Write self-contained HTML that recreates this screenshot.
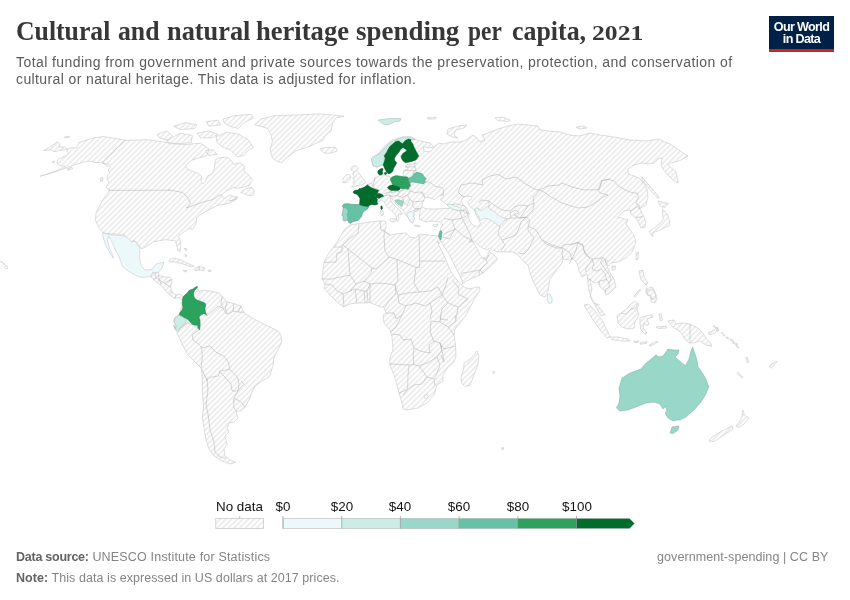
<!DOCTYPE html>
<html><head><meta charset="utf-8">
<style>
html,body{margin:0;padding:0;background:#fff;}
body{width:850px;height:600px;position:relative;overflow:hidden;font-family:"Liberation Sans",sans-serif;}
.abs{position:absolute;white-space:nowrap;}
div.abs{will-change:transform;}
#title{left:16px;top:15.4px;width:640px;height:32px;font-family:"Liberation Serif",serif;font-weight:bold;font-size:28px;line-height:32px;color:#373737;}
#title .tw{position:absolute;top:0;white-space:nowrap;transform-origin:0 50%;line-height:32px;}
.sub{left:16px;font-size:14px;line-height:17px;color:#5b5b5b;}
#logo{left:769px;top:16px;width:65px;height:33px;background:#002147;border-bottom:3px solid #ce261e;color:#fff;font-weight:bold;font-size:12.6px;line-height:11.7px;text-align:center;letter-spacing:-0.66px;}
.foot{font-size:12.5px;color:#858585;}
.foot b{color:#636363;}
.lg{font-size:13.4px;color:#111;}
</style></head><body>
<div id="title" class="abs"><span class="tw" style="left:0.08px;transform:scaleX(0.9188)">Cultural</span><span class="tw" style="left:101.58px;transform:scaleX(0.9182)">and</span><span class="tw" style="left:150.66px;transform:scaleX(0.9402)">natural</span><span class="tw" style="left:239.95px;transform:scaleX(0.949)">heritage</span><span class="tw" style="left:340.44px;transform:scaleX(0.9623)">spending</span><span class="tw" style="left:452.4px;transform:scaleX(0.835)">per</span><span class="tw" style="left:496.38px;transform:scaleX(0.9244)">capita,</span><span class="tw" style="left:576.32px;font-size:20px;top:2.4px;transform:scaleX(1.2816)">2021</span></div>
<div class="abs sub" style="top:53.5px;letter-spacing:0.42px">Total funding from government and private sources towards the preservation, protection, and conservation of</div>
<div class="abs sub" style="top:70.7px;letter-spacing:0.385px">cultural or natural heritage. This data is adjusted for inflation.</div>
<div id="logo" class="abs"><div style="margin-top:5.6px">Our World</div><div style="margin-top:0.9px">in Data</div></div>

<svg class="abs" style="left:0;top:0" width="850" height="600" viewBox="0 0 850 600">
<defs>
<pattern id="hatchL" patternUnits="userSpaceOnUse" width="4" height="4" patternTransform="rotate(-45 2 2)"><path d="M -1,2 l 6,0" stroke="#ccc" stroke-width="0.7"/></pattern>
<pattern id="hatch" patternUnits="userSpaceOnUse" width="3.85" height="3.85" patternTransform="rotate(-45 1.9 1.9)"><path d="M -1,1.925 l 6,0" stroke="#ccc" stroke-width="0.68"/></pattern>
</defs>
<g id="map"><path d="M40 176.2 L50 173.5 L57.5 171 L64.4 168.5 L68.1 167.2 L72.5 165.6 L77.5 163.8 L82.5 162.5 L87.5 161.2 L91.2 161.2 L95 162.5 L101.2 162.5 L105 163.8 L108.8 164.4 L110 167.5 L108.1 170 L110 173.1 L107.5 175 L106.9 178.8 L108.8 182.5 L106.2 187.5 L110 190 L102.1 200.6 L96.2 212.4 L95.3 219.7 L99.1 228.5 L103.5 232.9 L109.4 233.8 L123.5 234.4 L130 241.8 L134.4 240.3 L141.8 249.1 L153.5 241.8 L165.3 239.7 L175.6 240.9 L177.9 250.6 L180.6 251.5 L180.6 241.8 L178.5 235.9 L188.8 228.5 L192.5 229.3 L196 223.7 L196.7 218 L201 214.4 L206.7 210.9 L212.3 208.1 L218 205.2 L223.7 204.5 L229.3 203.1 L237.1 198.9 L237.8 196.7 L231.4 200.3 L229.3 201 L235 199.6 L236.4 196.7 L229.3 195.3 L223.7 198.9 L221.5 194.6 L226.5 191.1 L232.9 187.5 L236.4 188.2 L242.1 187.5 L249.2 185.4 L252.3 179.7 L249.2 175.5 L244.2 171.2 L244.2 166.3 L240.7 162.7 L233.6 164.2 L230.7 159.9 L226.5 157.1 L219.4 157.8 L215.2 159.9 L214.4 168.4 L212.3 173.4 L207.4 176.2 L205.9 180.5 L203.1 184 L201 181.9 L201.7 176.2 L198.2 173.4 L192.5 171.2 L187.5 169.1 L185.4 166.3 L186.8 164.2 L192.5 159.9 L199.6 157.8 L206.7 155.7 L209.3 149 L200.6 143.2 L182.9 144.7 L162.4 141.8 L147.6 139.7 L127.1 140.3 L122.5 139.8 L110 137.5 L103.8 136.5 L92.5 138.1 L85 140.6 L78.8 142.5 L78.1 145 L76.2 148.1 L72.5 147.5 L68.1 148.8 L66.9 151.2 L68.8 153.1 L66.2 155.6 L61.2 157.5 L57.5 160 L56.9 163.1 L60 165.6 L65 166.2 L61.9 168.1 L55 171.2 L47.5 173.8Z M43.8 150.6 L48.8 147.5 L57.5 141.9 L60 143.8 L59.4 146.9 L64.4 146.9 L67.8 149.4 L63.1 150 L58.8 150.6 L53.8 151.9 L51.2 149.8Z M64.4 136.9 L69.4 136.2 L68.8 137.5 L65 137.8Z M51.9 161.9 L54.4 161.5 L53.8 163.1Z M67.2 168.8 L71.9 167.2 L72.5 168.8 L68.1 170.2Z M100 178.1 L102.5 177.2 L103.1 180.6 L100.6 181.5Z M240.7 192.5 L246.3 188.2 L252 187.5 L254.5 191.1 L252.7 196 L247.7 195.3 L243.5 193.2Z M150.6 276.6 L153 272 L155 273 L158.6 272 L158.6 275 L162 276.6 L170 277.4 L172 279.4 L170.6 287 L172 292 L176 295 L180 294 L183.4 296.4 L182 300 L179 297.4 L175 298.6 L171 296 L166 291.4 L161 285.4 L155 281Z M169 260 L174 258 L181 260 L189 264 L194 266 L191 267 L183 264 L175 262 L170 262Z M195 268 L199 266.6 L205 268 L204 270.6 L199 270 L195 270.6Z M183 270.6 L187 270.6 L186 272.2Z M208 270 L211 270 L211 271.4 L208 271.4Z M184 248 L187 249 L186 251Z M185 254 L187 256 L185.4 256.6Z M197 286.4 L199 292 L202 290 L210 291 L219 293 L222 296 L227 302 L234 303.6 L241 306 L244 313 L254 319 L262 323 L270 327 L278 331 L281 335 L281.6 342 L278 350 L274 357 L273 366 L270 375 L269 377 L262 381 L255 386 L252 392 L250 398 L245 407 L241 411 L236 411 L238 418 L234 422 L229 423 L227 428 L229 432 L225 436 L227 444 L224 449 L225 456 L230 460 L235.6 462.4 L230 464 L222 461 L214 456 L209 449 L206 440 L204.4 430 L202.4 418 L203.6 406 L202.4 394 L202.4 382 L201.6 370 L201 368 L195 362 L188 355 L183 346 L179 337 L176 331 L173.6 325 L175 329 L176 325 L173.6 321 L175 317 L179 315 L181 309 L183 303 L182 299.4 L183.4 296.4 L185 295 L189 292 L193 289Z M254.7 125 L260.6 119.1 L274.7 115.6 L298.2 114.9 L319.4 113.9 L332.4 114.9 L344.1 116.3 L335.9 117.9 L332.4 123.8 L331.2 130.9 L325.3 135.6 L322.9 140.3 L310 146.2 L295.9 150.9 L286.5 157.9 L281.8 162.6 L277.1 161.5 L272.4 157.9 L270 149.7 L272.4 141.5 L271.2 135.6 L267.6 128.5 L260.6 126.2Z M319.9 148.5 L326.5 147.4 L335.9 147.4 L337.1 150.9 L331.2 153.2 L324.1 153.2Z M157.1 134.4 L166.5 130.9 L172.4 135.6 L167.6 140.3 L159.4 137.9Z M166.5 140.3 L180.6 133.2 L192.4 135.6 L191.2 142.6 L178.2 143.8 L168.8 143.8Z M173.5 126.2 L185.3 122.6 L197.1 125 L194.7 128.5 L180.6 129.7Z M206.5 121.5 L218.2 120.3 L220.6 125 L208.8 126.2Z M222.9 119.1 L234.7 115.6 L251.2 114.4 L253.5 117.9 L244.1 122.6 L238.2 128.5 L230 126.2 L224.1 122.6Z M197.1 133.2 L208.8 130.9 L218.2 134.4 L211.2 137.9 L200.6 137.9Z M215.9 136.8 L227.6 132.1 L239.4 134.4 L248.8 140.3 L253.5 147.4 L247.6 150.9 L244.1 155.6 L237.1 156.8 L230 149.7 L222.9 147.4 L217.1 142.6Z M205.3 150.9 L213.5 149.7 L217.1 154.4 L208.8 155.6Z M415 139.4 L420 141 L430 143 L434 147 L428 148 L423 146 L424 151 L430 152 L436 145 L439 143 L444 144 L450 142 L460 142 L466 140 L473 135 L477 138 L480 142 L485 140 L482 135 L488 133 L498 129 L508 126 L518 124 L528 125 L538 126 L540 130 L560 132 L570 135 L579 136 L590 133 L600 135 L614 137 L630 140 L648 141 L658 139 L670 144 L680 151 L688 156 L679 161 L670 163 L668 165 L676 172 L678.4 183 L674 181 L668 175 L663 169 L661 165 L662 158 L658 159 L654 163 L648 164 L642 163 L634 165 L628 169 L628 174 L634 176 L639 178 L643 182 L647 189 L648 197 L646 205 L639 209 L639 207 L642 213 L646 222 L645 227 L641 228 L638 221 L634 216 L631 214 L630 210 L624 211 L618 217 L628 220 L626 224 L634 235 L636 242 L632 252 L626 258 L618 262 L611 263 L608 266 L605 260 L609 271 L614 279 L616 287 L610 293 L606 295 L604.4 290 L600 287 L599 282 L594 283 L590 279 L592 289 L590 297 L594 303 L599 307 L605 315 L605 315 L602 315 L601 316 L596 307 L592 299 L589 291 L588 283 L587 274 L582 277 L579 271 L577 263 L573 259 L570 260 L563 259 L562 263 L556 271 L550 279 L548 291 L545 297 L540 295 L534 283 L530 273 L528 265 L525 263 L523.8 261.2 L520 257.5 L517.5 254.4 L512.5 251.9 L505 251.9 L497.5 251.9 L492.5 250 L489.4 248.1 L487.5 249.4 L483.8 248.8 L478.8 245.6 L474.4 241.2 L470.6 240 L473.1 241.9 L475.6 246.2 L478.8 251.9 L480 255 L482.5 258.1 L486.2 257.5 L488.1 254.4 L489.4 250 L490.6 253.1 L495 255.6 L497.5 259.4 L493.1 263.8 L488.8 268.1 L483.8 272.5 L478.8 275.6 L472.5 278.1 L466.2 281.2 L462.5 283.8 L461.8 280 L458.8 273.8 L455.6 267.5 L452.5 261.2 L448.8 253.8 L444.2 246.9 L440.9 241.2 L438.8 238.1 L439 233.8 L440 230.6 L441 227 L443 225 L440 222 L432 221 L426 222 L419 219 L420 212 L420 208.5 L418 209 L417 211 L414.5 211.5 L413.5 213 L414.5 215 L413 216 L414.5 218.5 L413.5 221 L412.5 223 L410.5 221.5 L409 219 L407.5 216.5 L406.5 216 L405 214.5 L404 212 L402.5 210 L400 207.5 L397 205 L394.5 202 L392.5 200 L391 197.5 L390 198 L391 201 L394 205 L398 209 L401 212 L402.5 214 L400 214.5 L399 213.5 L398.5 216 L399 219 L397.5 221.5 L396.8 220 L396.5 217 L395 214 L392 211.2 L388.5 208 L385.5 204.5 L383.5 201 L381 200 L378 201.5 L378 204 L375 205 L372 204.5 L369.5 205.2 L368.5 206.5 L368 208.5 L365 210.5 L362.5 213 L361.5 216.5 L359.5 219 L357.5 220.5 L353 221.5 L350 223.5 L348.5 222 L347.5 220 L344 221.2 L343 219.5 L343.5 216.5 L341.8 215.5 L342.8 212 L343.2 209.5 L343 207.5 L342.5 205.5 L344 204 L348 203.8 L353 204.5 L359.5 204.5 L359.8 201.5 L360 198.5 L358.5 196 L356.5 194 L354 193.5 L353 192 L354.5 190.5 L358 190 L359 188.8 L360.5 188.5 L362.5 188 L365.5 186.5 L367 184.8 L371.2 183.1 L373.8 180.6 L375 177.5 L378.1 176.9 L379.4 175 L378.5 174 L378 171 L381.5 168.5 L382.5 171 L381.5 174 L385 175.5 L389 176 L390.5 178 L396 176 L404 176.5 L403 174 L403.5 171 L405.5 169.5 L408 170 L407.5 167.5 L405.5 166.5 L407 164.5 L412 164 L416 163.5 L415.5 160 L405 162.5 L401.5 159 L401 155.5 L405 151.5 L406.5 149.5 L404 148.5 L400 151 L395 157 L394 160 L396.5 163 L393 167 L392.5 172 L389 173.5 L386.5 172 L384 166 L382 164 L379 165.2 L373 166 L371.5 159 L378 154 L384 147 L392 140 L403 137 L411 137 L415 139.5Z M350 225 L360 223.4 L370 222 L379 221 L385.6 221 L386.4 226 L384.4 231 L390 235 L396 234 L406 233 L410 237 L416 238 L419 234 L428 235 L438 236 L439.6 237.4 L438.8 238.1 L440.6 241.2 L439 243.8 L437.4 241.2 L439.6 246.9 L443.2 253.8 L446.4 261.2 L448.9 267.5 L452.6 274.4 L457 280 L461 284.4 L465 287.5 L470 288.8 L477.5 286.9 L480 287.5 L479.4 291.2 L476.2 296.2 L473.8 300 L466 315 L460 323 L455 329 L454 335 L455.6 345 L456 356 L454 362 L448 367 L443 375 L443 381 L437 385 L434 395 L427 403 L418 408 L407 410 L403 409 L402 403 L399 393 L397 385 L394 375 L389.6 364 L390 358 L393 349 L392 337 L390 330 L384 323 L383 315 L386 313 L384 307 L380 307 L376 305 L370 302.6 L364 303 L357 303 L350 304 L343 307 L336 301 L330 295 L324 288 L325 284 L322 279 L323 271 L324 262 L329 253 L335 245 L340 237 L345 229Z M476.6 351 L479 355 L478 364 L474 375 L470 385 L465 386.6 L461.6 383 L461 377 L463.6 369 L464 363 L469 360 L474 355Z M743 410 L744.4 415 L749 418 L744 424 L738 428 L736 426 L740 421 L742 416Z M732 426 L733 429 L724 435 L714 441.6 L709 441 L712 437 L722 431Z M737.6 372 L743 377 L742 378 L737 373.6Z M584 305 L589 304 L596 312 L603 322 L607 330 L610 337 L607 338 L600 330 L593 320 L587 310Z M610 337 L618 337 L628 339 L630 341 L622 341 L612 339.6Z M634 341 L639 341 L638 342.4 L634.4 342.4Z M640 343 L647 341.6 L646.6 343.2 L640.4 344.4Z M649 345 L657 341 L658 342 L650 346.4Z M617 316 L625 310 L631 304 L635 301 L639 304 L637 309 L639 315 L635 322 L634 328 L628 329 L622 327 L618 323Z M640 318 L645 316 L652 315 L653 317 L647 319 L649 324 L647 326 L644 323 L643 328 L647 333 L645 334 L641 330 L640 324Z M659 314 L661 313.6 L662.4 320 L660.4 321Z M656 327 L661 326.6 L666 326 L667 328 L658 328.4Z M668 321 L674 320 L676 324 L682 323 L690 324 L698 328 L703 333 L706 338 L711 344 L712 346.4 L706 345 L700 341 L694 343 L689 343 L685 339 L682 334 L678 330 L674 328 L671 325Z M708 333 L714 330 L717 327 L718 329 L715 333 L710 335Z M647 290 L654 290 L657 298 L655 303 L651 302 L652 297 L647 295Z M639 271 L643 270 L644 277 L648 283 L646 285 L641 280Z M646 289 L652 287 L656 295 L655 299 L650 299 L651 296 L646 293Z M634 296 L640 289 L640.4 290.6 L635 297.4Z M636 253 L638.4 252 L638 259 L636 260Z M612 266 L615.6 266 L615 270 L612 270Z M576 127 L584 126 L587 128 L579 129Z M427 117.8 L436 117.4 L435.6 119 L428 119Z M448 129 L458 126 L467 125 L464 128 L456 130 L454 135 L458 138 L452 137 L447 134Z M495 118 L502 117 L510 120 L508 121.4 L498 120.6Z M433 225 L438 224 L437 226.6 L433.6 226.6Z M423.6 396 L426.4 394 L428.4 396.6 L425.6 399Z M658.3 200.8 L663.3 202.5 L668.3 203.3 L665 207.5 L660.8 206.7 L659.2 204.2Z M662.5 209.2 L666.7 213.3 L670 221.7 L669.2 225.8 L663.3 228.3 L658.3 230.8 L653.3 232.5 L652.5 236.7 L649.2 231.7 L655 227.5 L660 223.3 L663.3 219.2 L662.5 214.2Z M641.7 176.7 L646.7 182.5 L651.7 188.3 L656.7 194.2 L659.2 197.5 L657.5 198.3 L652.5 192.5 L646.7 185.8 L642.5 180Z M380 211 L383 210.5 L383.5 215 L381.5 216 L380 214.5Z M390 219 L393.5 218.5 L396.5 219 L395.5 221.5 L392.5 222 L390 220.5Z M721.9 332.2 L724.8 335.2 L724 336 L721.2 333Z M726.2 336.6 L729 338.5 L728.5 339.2 L725.8 337.4Z M730.6 339.1 L734 341 L733.5 341.9 L730.1 340Z M733.1 342.2 L737.8 344.1 L737.2 345 L732.8 343.2Z M736.2 345.4 L739 347.2 L738.5 348 L735.8 346.1Z M746 357.5 L747.2 357.2 L748.8 362.2 L747.5 362.8Z M769.4 366.2 L771.9 363.8 L776.9 361.2 L777.2 362 L775 363.4 L772.2 367.8 L770 367.8Z M713.5 325.5 L718.8 329 L719 330.2 L716.9 331.5 L716.2 330.2 L717.2 329.5 L713 326.2Z M5 265.8 L7.5 266.2 L7.8 268.5 L5.8 269 L4.8 267.5Z M3.3 263 L5 263.8 L4.6 264.6 L3 263.8Z M0.8 261.2 L2.4 262 L2 262.8 L0.6 262Z M493 371.6 L494.6 371.6 L494.6 373.2 L493 373.2Z M501.5 447.5 L503.8 447.8 L503.5 449.5 L501.5 449.2Z M352.7 166 L356.2 166 L358.4 168.6 L356.6 170.8 L359.2 173.4 L361.4 176.4 L363.1 179 L365.3 181.2 L364.9 183.3 L362.3 184.6 L357.9 185.5 L353.6 186.8 L351.4 186.8 L354.5 184.2 L352.7 182.4 L354.9 180.7 L352.7 179 L354.5 176.4 L352.7 174.7 L353.6 171.6 L351 169.9 L351 167.7Z M343.6 177.7 L346.7 174.7 L349.7 174.7 L351 176.8 L349.7 179.9 L346.7 182.4 L343.2 182.9 L342.8 180.7Z" fill="url(#hatch)" stroke="#c2c2c2" stroke-width="0.55" stroke-linejoin="round"/>
<path d="M424.8 198.1 L428.1 197.2 L431.2 198.5 L435 199.4 L437.5 196.9 L441.2 195.2 L443.8 193.8 L442.8 197.5 L440 199.4 L443.8 202.5 L447.5 205 L450 208.5 L443.8 208.5 L435 209 L426.2 208.8 L421.9 206.9 L422.5 202.5Z M461.6 200.3 L462.9 197.5 L466.6 196.1 L471.2 196.6 L472.1 198.4 L469.4 200.3 L467.5 202.1 L469.4 205.8 L472.1 208.5 L474.4 210.4 L475.8 214 L478.5 219.5 L480.4 223.2 L479.4 226 L476.2 226.4 L473 225 L470.3 222.3 L468.4 217.7 L469.4 214 L467.5 210.4 L464.8 206.7 L462 203Z" fill="#fff" stroke="#c2c2c2" stroke-width="0.55" stroke-linejoin="round"/>
<path d="M107.9 190.3 L169.7 190.3 L168.4 189.7 L182.6 192.5 L188.2 198.2 L190.4 203.1 L186.1 208.1 L192.5 205.9 L199.6 203.1 L206.7 201 L213 199.6 L218 196 L221.5 194.6 M125.6 139.7 L102.1 162.4 L107.9 166.8 M222 296 L221 303 L223 308 L226 314 L230 313 L233 311 L238 312 L243.6 312.4 M207 315.6 L214 310 L218 306 L222.4 308 M227 302 L225 308 L227 313 M234 303.6 L233 311 M241 306 L238 312 M199.6 329.6 L192 334.4 L193 340 L199 344.4 L201.6 348 L202.4 356 L201 368 M173.6 325 L177 330 L182 327 L187 323 L193 325 L199.6 329.6 M201.6 348 L210 346 L216 352.4 L224.4 356.4 L228.4 362.4 L230 369.4 L220 371 L218.4 376 L210 377.4 L207 380.4 L204 374 L201.6 369 M230 369.4 L238 378 L239 384 L238 391 L232 391 L231 384 L220 371.6 M207 378 L208 390 L206 404 L208.4 416 L210 430 L214 442 L215 452 L220 457 L225.6 458 M239 389 L234 398 L241 402 L245 407 M234 398 L233.6 407 L236 411 M239 389 L244 384 L241 381 M690 324 L690 343 M359 224 L358 233 L349 239 L343 245 L372 268 L376 269 L389 257 L385 251 L384 237 L384.4 231 L381 230 L380 221.4 M343 245 L342 247 L334 247 M342 247 L342 252 L337 253 L336 262 L324 262.4 M348 248.6 L350 275 L336 278 L332 279 L322 279 M384.4 231 L389 235 M389 257 L397 259.4 L416 267.4 L419.6 267.4 L419.6 261 L419 235 M419.6 261 L445 261 M397 259.4 L398 281 L395 285 L390 284 L378 283 L370 284 L364 281 L371 273 L372 268 M416 267.4 L414 283 L419 292 L430 291 L438 287 L442 295 L446 285 L448 277 M364 281 L356 284 L350 291 L343 294 L336 290 L332 285 L325 284 M350 275 L356 284 M343 294 L344 307 M350 291 L355 289 L357 303 M355 289 L364 291 L365 303 M364 291 L367 291 L370 284 M367 291 L368 302.6 M370 284 L370 302.6 M395 285 L396 293 L389 301 L385 307 M395 285 L398 295 L408 293 L419 292 M398 295 L399 303 L406 306 L416 303 L425 306 L430 303 L442 295 M442 295 L448 303 L458 307 L468 299 L458 294 L459 288 L453 281 M448 303 L442 309 L440 319 L448 320 M458 307 L456 319 M386 313 L394 313 L396 319 L402 315 L406 306 M390 333 L396 327 L402 315 M430 303 L432 311 L430 319 M392 334 L400 335 L403 340 L411 339 L414 348 L413 355 L414 364.6 L409 365 L389.6 364 M409 365 L408 375 L407.6 389 L403 395 M399 393 L407.6 389.4 L414 385 L422 384 L427 377 L419 366 L414 364.6 M414 348 L420 351 L430 353 L429 345 L434 341 L440 343 L442 350 L437 357 L429 362 L419 366 M437 357 L440 365 L437 373 L434 379 L435 386 M427 377 L434 379 M431 321 L440 322 L448 327 L454 335 M440 343 L444 349 L455.6 346 M440 343 L443 355 L444 362 L441 355 M431 321 L430 331 L433 340 L434 341 M440 322 L441 315 M448 327 L456 321 L455 315 M458 192 L461 185 L472 183 L483 185 L482 180 L490 176 L498 174.4 L506 179 L516 177 L526 184 L534 189 L539 190 L536 195 L533 197 L534 203 L528 206 L520 205 L514 207 L510 211 L502 210 L494 205 L489 201 L481 200 L479 203 M458 192 L462 196 L466 197 M489 201 L489 207 M506 219 L511 218 L510 213 L516 210 L519 213 L514 215 L520 218 L528 206 M520 218 L526 217 L533 210 L534 203 M539 190 L548 186 L559 185 L562 183 L572 187 L584 190 L598 189.6 L600 193 L608 195 L603 197 L598 201 L588 207 L578 208 L568 205 L560 202 L551 197 L544 192 L539 190 M598 189.6 L602 181 L610 179 M452 209 L460 211 L462 218 L466 226 L470 234 L472 240 M444 218.4 L452 220 L462 218 M452 220 L455 229 L444 234 M455 229 L465 237 L472 240 M455 229 L449 239 L443 237 M460 211 L466 210 L468 215 L463 218 M500 225.6 L498 234 L502 240 L505 245 L501 251 M511 218 L520 218 L526 217 L521 222 L519 228 L516 235 L508 238 L502 240 M526 217 L530 220 L528 226 L528 230 L534 238 L531 244 L528 250 L524 254 L519 253 M528 226 L536 230 L542 240 L552 245 L562 248 L563 245 L573 244 L578 242 L583 245 L585 254 L590 258 M542 240 L546 244 L556 248 L562 248 M563 248 L570 253 L572 259 L569 264 M563 248 L562 253 L563 259 M578 242 L576 250 L572 259 M460.6 276.2 L462.5 273.1 L470 271.9 L480 270 L483.1 273.1 M480 270 L478.8 275.6 M480 270 L487.5 262.5 L486.2 260 L482.5 258.1 M486.2 260 L488.8 255 M470.6 240 L468.8 241.9 L473.1 241.9 M599.2 190 L601.7 180.8 L607.5 179.2 L613.3 180.8 L618.3 185.8 L625 190 L631.7 192.5 L637.5 193.3 L638.3 198.3 L635.8 203.3 L639.7 205.8 M630 211.7 L635.8 207.5 L639.7 205.8 M635.8 217.5 L642.5 216.7 M571.2 245 L576.5 242.7 L582.5 245 L584 251 L587.7 256.2 L592.2 259.2 L596.7 258.5 L602.7 257.7 L606.5 260 L608.7 261.5 M592.2 259.2 L590 263 L585.5 269 L586.2 272 M592.2 259.2 L593.7 264.5 L592.2 269 L596.7 271.2 L601.2 269 L605 273.5 L606.5 279.5 L608.7 282.5 M602.7 257.7 L600.5 262.2 L605 269 L609.5 275 L611 280.2 L608.7 282.5 L609.5 287 L605.7 289.2 L605 293 M598.2 284.7 L599.7 281 L606.5 279.5 M587.7 278 L590.7 280.2 M595.2 303.5 L599.7 305 M621.5 313.2 L626 314 L630.5 309.5 L635.7 308 L638 303.5 M414.4 162.5 L415 166.9 L416.2 170.6 L414.4 170.6 L413.1 173.8 M405 166.9 L415 166.9 M403.8 170.6 L414.4 170.6 M421.2 173.1 L425 176.9 L425.6 180 M424.4 183.5 L426.2 181.2 L431.2 183.1 L435 186.2 L441.2 187.5 L443.8 190 L443.1 193.8 L440.6 196.2 M410.6 183.1 L408.8 187.5 L410 191.2 L415 192.5 L421.2 191.9 L422.5 194.4 L425 197.5 M421.2 191.9 L423.8 193.8 L424.4 197.5 M410 191.2 L407.5 195 L410 199.4 L413.1 201.9 L422.5 201.2 L424.4 200 M413.1 201.9 L412.5 205.6 L415 208.8 L420.6 208.1 L421.9 206.9 M400 191.2 L405 189.8 L408.8 187.5 M397.5 195.6 L402.5 197.5 L407.5 195 M388.8 193.1 L393.8 191.9 L400 191.2 L398.8 193.8 L397.5 195.6 L392.5 196.2 L388.8 195.6 M402.5 197.5 L403.8 202.5 L406.9 205.6 L410 199.4 M450 205 L456.2 203.8 L465 206.2 L467.5 208.8 M461.2 209.4 L465 212.5 L468.8 213.8 M375 177.5 L373.8 182.5 L373.1 186.2 L375.6 189.4 M371.2 183.1 L373.1 186.2 M379.4 175.2 L381.9 175.2 M383.8 193.8 L387.5 192.5 L392.5 191 M383.8 196 L388.8 195 L392.5 196.9 M155 273 L156 277.4 L153 279 M158.6 275 L159.4 280 L164 283 L172 279.4 M156 277.4 L159.4 280 L161.4 284.6 M164 283 L170.6 287 M172 292 L169.4 294 M176 295 L174.6 298.2 M199 266.6 L199.4 270.2" fill="none" stroke="#b4b4b4" stroke-width="0.55" stroke-linejoin="round"/>
<path d="M102.6 233 L110 234.6 L125 236 L132 242 L135 241 L140 248 L139.4 257 L141.4 266 L145 270 L152 269.4 L156 264 L164 262 L162 268 L158.6 272 L155 273 L153 272 L150.6 276.6 L142 277.4 L137 276 L128 271 L122 266 L120 259 L115 249 L111 240 L108.6 236 L107.4 241 L110 249 L113 256 L113.4 258.2 L111 255 L107 248 L104.6 242 L103 237Z" fill="#edf8fb" stroke="#aab2b4" stroke-width="0.4" stroke-linejoin="round"/>
<path d="M668 349 L674 350 L679 350 L678 354 L675 357 L682 363 L685.6 365.6 L689 359 L691 351 L692.6 347 L695 354 L697 360 L698 367 L703 374 L706 379 L708.4 386 L709 386 L706 394 L701 402 L694 410 L686 417 L680 420 L677 420 L673 421 L668 418 L665 413 L667 411 L666 406.4 L663 409 L660 404 L654 402 L646 403 L636 407 L628 410 L620 411 L616.4 408 L619 403 L620 396 L619 388 L622 378 L630 373 L641 369 L645 364 L650 360 L656 355 L659 357 L663 356Z" fill="#99d8c9" stroke="#6e9b90" stroke-width="0.4" stroke-linejoin="round"/>
<path d="M672 427 L679 426 L678 430 L673 433.6 L670 433Z" fill="#99d8c9" stroke="#6e9b90" stroke-width="0.4" stroke-linejoin="round"/>
<path d="M547.6 294 L550 294 L552.4 299 L551.6 303 L549 303.4 L547 300Z" fill="#edf8fb" stroke="#aab2b4" stroke-width="0.4" stroke-linejoin="round"/>
<path d="M378 120 L388 118.6 L401 118.6 L400 121 L394 122 L388 125 L383 124Z" fill="#ccece6" stroke="#92a9a5" stroke-width="0.4" stroke-linejoin="round"/>
<path d="M446.5 204.5 L450 204.2 L455 206 L460 207.5 L461.5 209.5 L458 210.5 L454 209.5 L451 208 L449 206.5Z" fill="#edf8fb" stroke="#aab2b4" stroke-width="0.4" stroke-linejoin="round"/>
<path d="M440 231 L441.5 230.8 L442 233 L441 240 L440 239 L438.5 236 L439.2 233.5Z" fill="#66c2a4" stroke="#498b76" stroke-width="0.4" stroke-linejoin="round"/>
<path d="M197 286.2 L197.5 287.5 L194.5 290.5 L193.5 294 L194 296.5 L195 298.5 L197 300 L200 301 L205 303 L205.8 305 L205 308.5 L205.5 312 L206.8 315.5 L205 314 L203.5 313.5 L200.5 315.5 L199 317 L200 320 L200.2 324 L199.8 330 L198 328 L197.5 325.5 L194.5 325 L192.5 324.5 L190.5 322.5 L188.5 320 L186 318.5 L184 318 L182 316.5 L179 315 L180 312.5 L182 310 L183 307 L182 304 L182.5 300 L183 297 L185 295 L187.5 292.5 L189.5 290 L193 289 L195 287.5Z" fill="#2ca25f" stroke="#1f7444" stroke-width="0.4" stroke-linejoin="round"/>
<path d="M179 315 L182 316.5 L184 318 L186 318.5 L186.5 321 L185 323.5 L182 326 L180 328 L178.5 331.5 L177 330.5 L175.5 328.5 L176.5 326 L175 324 L174 322 L175 318.5 L177 316.5Z" fill="#ccece6" stroke="#92a9a5" stroke-width="0.4" stroke-linejoin="round"/>
<path d="M342.5 205.5 L344 204 L348 203.8 L353 204.5 L359.5 204.5 L362 205.5 L365.5 206.2 L368.5 206.5 L368 208.5 L365 210.5 L362.5 213 L361.5 216.5 L359.5 219 L357.5 220.5 L353 221.5 L350 223.5 L348.5 222 L347.5 220 L347.8 218 L347 214.5 L348 212 L347.5 209 L344.5 207.5 L343 207.5Z" fill="#66c2a4" stroke="#498b76" stroke-width="0.4" stroke-linejoin="round"/>
<path d="M343 207.5 L344.5 207.5 L347.5 209 L348 212 L347 214.5 L347.8 218 L347.5 220 L344 221.2 L343 219.5 L343.5 216.5 L341.8 215.5 L342.8 212 L343.2 209.5Z" fill="#99d8c9" stroke="#6e9b90" stroke-width="0.4" stroke-linejoin="round"/>
<path d="M353 192 L354.5 190.5 L358 190 L359 188.8 L360.5 188.5 L362.5 188 L365.5 186.5 L367 184.8 L369 186 L371 187.5 L373.5 188.5 L376 189.5 L378.8 190 L377.5 193 L376 195 L374.5 196 L376.5 197.5 L377.5 200 L377 202.5 L378 204 L375 205 L372 204.5 L369.5 205.2 L368.5 206.5 L365.5 206.2 L362 205.5 L359.5 204.5 L359.8 201.5 L360 198.5 L358.5 196 L356.5 194 L354 193.5Z" fill="#006d2c" stroke="#004e1f" stroke-width="0.4" stroke-linejoin="round"/>
<path d="M376 195 L377.5 193.5 L380 193.5 L383 195 L383.5 196.5 L381 197.2 L379 198.5 L376.5 197.5 L375 196.5Z" fill="#006d2c" stroke="#004e1f" stroke-width="0.4" stroke-linejoin="round"/>
<path d="M380.8 206.2 L382 205.8 L382.5 208.5 L381.5 209.8 L380.8 208.5Z" fill="#006d2c" stroke="#004e1f" stroke-width="0.4" stroke-linejoin="round"/>
<path d="M395 200 L398.5 199.8 L401.5 200.5 L403.5 202 L402.5 205 L401.5 206.5 L399.5 205 L397.5 203.5 L395.5 201.5Z" fill="#99d8c9" stroke="#6e9b90" stroke-width="0.4" stroke-linejoin="round"/>
<path d="M406.5 214 L408.5 212.5 L411 211.5 L414 210.5 L418 209 L419 210 L417 211 L414.5 211.5 L413.5 213 L414.5 215 L413 216 L414.5 218.5 L413.5 221 L412.5 223 L410.5 221.5 L409 219 L407.5 216.5Z" fill="#edf8fb" stroke="#aab2b4" stroke-width="0.4" stroke-linejoin="round"/>
<path d="M414 225 L417 225.3 L420 225.8 L419.5 226.8 L415 226.2Z" fill="#edf8fb" stroke="#aab2b4" stroke-width="0.4" stroke-linejoin="round"/>
<path d="M474.4 208.9 L476.3 207.8 L478.9 208.5 L479.6 210 L481.1 210.4 L483 209.6 L484.9 208.1 L486.8 206.6 L489 207.4 L490.9 210 L493.5 211.1 L495.8 213 L498 214.9 L501 216.8 L504 218.3 L506.3 219 L506.6 220.1 L504 220.9 L502.9 222.4 L501.8 223.9 L499.9 225.8 L498 225.8 L496.5 223.9 L493.9 222.4 L491.3 220.5 L488.3 219 L485.3 218.3 L482.6 219 L480.4 220.5 L479.3 219 L478.9 216.4 L477 213.8 L475.5 212.3 L475.1 210.4Z" fill="#edf8fb" stroke="#aab2b4" stroke-width="0.4" stroke-linejoin="round"/>
<path d="M475.9 209.3 L477 208.7 L478.2 209.3 L478.4 210.6 L477.4 211.4 L476.1 210.9Z" fill="#ffffff" stroke="#c8c8c8" stroke-width="0.4" stroke-linejoin="round"/>
<path d="M378 170.8 L380.4 169 L382.6 168.2 L383.2 169.9 L382.2 171.2 L382.9 173.4 L381.3 175.1 L379.1 174.7 L377.8 172.9Z" fill="#006d2c" stroke="#004e1f" stroke-width="0.4" stroke-linejoin="round"/>
<path d="M383.9 172.9 L386.1 172.2 L386.9 173.8 L385.2 174.7Z" fill="#006d2c" stroke="#004e1f" stroke-width="0.4" stroke-linejoin="round"/>
<path d="M390.3 178.9 L392.4 176.8 L395.9 175.6 L398.8 175.9 L403.5 176.8 L407.1 176.8 L408.8 178.3 L408.5 180.6 L409.4 182.7 L410.6 185.6 L408.8 187.7 L408.2 189.5 L405.9 188.6 L402.4 188.9 L400 187.7 L397.6 186.5 L394.7 185.6 L392.6 184.8 L391.5 182.1 L390.6 180.4Z" fill="#2ca25f" stroke="#1f7444" stroke-width="0.4" stroke-linejoin="round"/>
<path d="M387.4 187.4 L389.7 185.6 L392.6 185.1 L394.7 185.6 L397.6 186.5 L400 187.7 L400.3 188.9 L398.2 190.4 L395.6 190.6 L393.2 190.4 L391.2 190.6 L388.8 189.2Z" fill="#006d2c" stroke="#004e1f" stroke-width="0.4" stroke-linejoin="round"/>
<path d="M408.8 178.3 L412.1 176.5 L413.8 173.9 L416.8 172.1 L420 173 L422.4 173.9 L423.8 176.8 L426.5 178.9 L424.7 179.8 L425.3 182.1 L423.5 183.9 L420.6 183.3 L416.5 182.7 L412.9 182.1 L409.4 182.7 L408.5 180.6Z" fill="#66c2a4" stroke="#498b76" stroke-width="0.4" stroke-linejoin="round"/>
<path d="M371.3 158.6 L372.2 162.5 L373.5 166 L377 167.3 L380.4 166 L383 164.7 L384.3 161.7 L384.3 158.6 L384.8 153.9 L387.4 151.3 L390.8 146.5 L395 143 L398 147 L403 147 L405 142 L410 140 L415 139.5 L411 137 L403 137 L393.5 140.8 L389.2 143.4 L385.7 147.3 L382.2 151.2 L378.8 154.2 L373.6 156.4Z" fill="#ccece6" stroke="#92a9a5" stroke-width="0.4" stroke-linejoin="round"/>
<path d="M396.1 141.3 L398.9 141 L401 142.7 L402.7 143.8 L403.1 147.6 L400.3 149.7 L398.9 152.2 L396.4 155 L394.3 158.5 L395 160.9 L396.8 162.7 L395.4 165.5 L393.6 168.3 L392.9 171.1 L390.5 173.2 L388.4 173.9 L386.6 172.1 L384.9 169 L383.1 164.8 L384.2 162 L385.2 158.5 L384.2 155.7 L386.6 152.5 L387.7 150.1 L389.8 146.6 L392.2 144.5 L394 142.7Z" fill="#006d2c" stroke="#004e1f" stroke-width="0.4" stroke-linejoin="round"/>
<path d="M402.7 143.8 L404.1 141.7 L406.2 139.9 L408.7 138.9 L410.8 139.6 L411.1 141.7 L412.9 143.8 L413.6 146.2 L415 149 L416.7 152.2 L418.8 156 L416.4 159.5 L413.6 160.9 L409.4 162 L405.5 162.7 L403.1 160.9 L401.7 158.8 L401 156.4 L403.1 153.2 L405.9 151.5 L406.9 150.1 L405.2 149 L403.1 147.6Z" fill="#006d2c" stroke="#004e1f" stroke-width="0.4" stroke-linejoin="round"/></g>
<g id="legend">
<rect x="215.8" y="518.5" width="47.7" height="10" fill="url(#hatchL)" stroke="#c4c4c4" stroke-width="0.7"/>
<line x1="239.7" y1="516" x2="239.7" y2="518.5" stroke="#999" stroke-width="0.6"/>
<rect x="283" y="518.5" width="58.7" height="10" fill="#edf8fb"/>
<rect x="341.7" y="518.5" width="58.7" height="10" fill="#ccece6"/>
<rect x="400.4" y="518.5" width="58.7" height="10" fill="#99d8c9"/>
<rect x="459.1" y="518.5" width="58.7" height="10" fill="#66c2a4"/>
<rect x="517.8" y="518.5" width="58.7" height="10" fill="#2ca25f"/>
<path d="M576.5 518.5H629.5L634.5 523.5L629.5 528.5H576.5Z" fill="#006d2c"/>
<path d="M283 518.5H629.5L634.5 523.5L629.5 528.5H283Z" fill="none" stroke="#aaa" stroke-width="0.5"/>
<g stroke="#8a8a8a" stroke-width="0.6">
<line x1="283" y1="516" x2="283" y2="528.5"/><line x1="341.7" y1="516" x2="341.7" y2="528.5"/><line x1="400.4" y1="516" x2="400.4" y2="528.5"/><line x1="459.1" y1="516" x2="459.1" y2="528.5"/><line x1="517.8" y1="516" x2="517.8" y2="528.5"/><line x1="576.5" y1="516" x2="576.5" y2="528.5"/>
</g>
</g>
</svg>
<div class="abs lg" style="left:216px;top:499px">No data</div>
<div class="abs lg" style="left:283px;top:499px;transform:translateX(-50%)">$0</div>
<div class="abs lg" style="left:341.7px;top:499px;transform:translateX(-50%)">$20</div>
<div class="abs lg" style="left:400.4px;top:499px;transform:translateX(-50%)">$40</div>
<div class="abs lg" style="left:459.1px;top:499px;transform:translateX(-50%)">$60</div>
<div class="abs lg" style="left:517.8px;top:499px;transform:translateX(-50%)">$80</div>
<div class="abs lg" style="left:576.5px;top:499px;transform:translateX(-50%)">$100</div>

<div class="abs foot" style="left:16px;top:549.5px"><b style="letter-spacing:-0.25px">Data source:</b><span style="letter-spacing:0.18px"> UNESCO Institute for Statistics</span></div>
<div class="abs foot" style="left:16px;top:570.5px;letter-spacing:0.06px"><b>Note:</b> This data is expressed in US dollars at 2017 prices.</div>
<div class="abs foot" style="right:21.5px;top:549.5px;letter-spacing:0.08px">government-spending | CC BY</div>
</body></html>
